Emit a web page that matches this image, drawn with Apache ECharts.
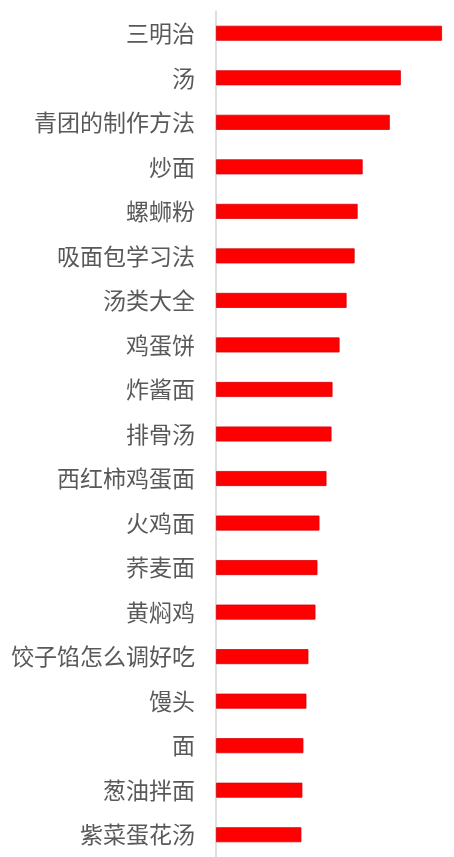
<!DOCTYPE html>
<html>
<head>
<meta charset="utf-8">
<script src="https://cdn.jsdelivr.net/npm/echarts@6/dist/echarts.min.js"></script>
<style>
html,body{margin:0;padding:0;background:#fff;}
#chart{width:454px;height:857px;}
</style>
</head>
<body>
<div id="chart"></div>
<script>
const categories = ['三明治','汤','青团的制作方法','炒面','螺蛳粉','吸面包学习法','汤类大全','鸡蛋饼','炸酱面','排骨汤','西红柿鸡蛋面','火鸡面','荞麦面','黄焖鸡','饺子馅怎么调好吃','馒头','面','葱油拌面','紫菜蛋花汤'];
const values = [225,184,173,146,141,138,130,123,116,115,110,103,101,99,92,90,87,86,85];

const chart = echarts.init(document.getElementById('chart'));
chart.setOption({
  animation: false,
  grid: {left: 216, right: 12, top: 11, bottom: -2, containLabel: false},
  xAxis: {
    type: 'value', min: 0, max: 225,
    show: false
  },
  yAxis: {
    type: 'category', data: categories, inverse: true,
    axisLine: {show: true, lineStyle: {color: '#d4d4d4', width: 1.5}},
    axisTick: {show: false},
    axisLabel: {
      color: '#595959', fontSize: 23, margin: 21,
      fontFamily: '"Noto Sans CJK SC", sans-serif'
    }
  },
  series: [{
    type: 'bar', data: values, barWidth: 15,
    itemStyle: {color: '#ff0000', borderColor: '#d9000a', borderWidth: 0.8}
  }]
});
</script>
</body>
</html>
